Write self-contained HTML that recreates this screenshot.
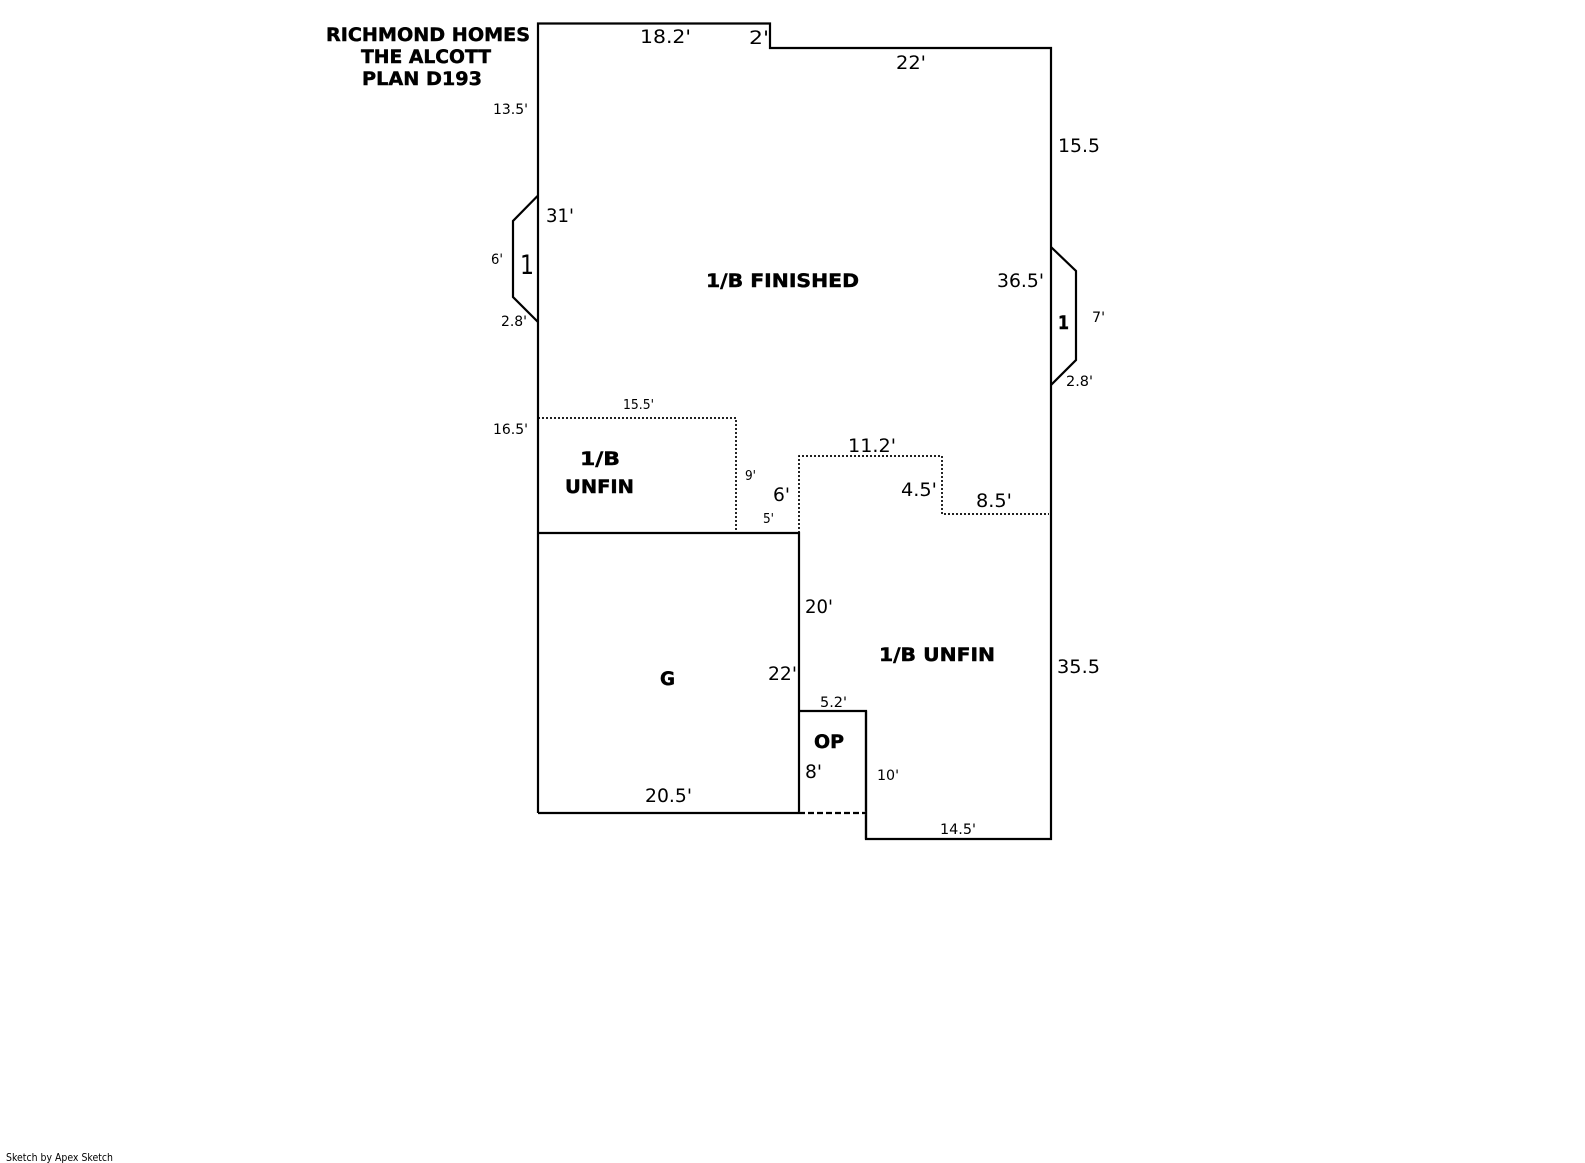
<!DOCTYPE html>
<html>
<head>
<meta charset="utf-8">
<style>
html,body{margin:0;padding:0;background:#fff}
svg{display:block}
text{font-family:"DejaVu Sans","Liberation Sans",sans-serif;fill:#000;font-size:18.5px}
.b{font-weight:bold;stroke:#000;stroke-width:.45px}
.s{font-size:14.5px}
.xs{font-size:13.5px}
</style>
</head>
<body>
<svg width="1585" height="1163" viewBox="0 0 1585 1163" xmlns="http://www.w3.org/2000/svg">
<g fill="none" stroke="#000" stroke-width="2.2">
<path d="M538 813V23.5H770V48H1051V839H866V711H799"/>
<path d="M538 533H799V813M538 813H799M866 711V839"/>
<path d="M537.5 196L513 221V297L538 322"/>
<path d="M1051 247L1076 271V360L1051 385"/>
<path d="M799 813H866" stroke="#fff" stroke-width="2.2"/>
<path d="M799 813H866" stroke-dasharray="6 3"/>
</g>
<g fill="none" stroke="#000" stroke-width="1.7" stroke-dasharray="2 2">
<path d="M538 418H736V533"/>
<path d="M799 533V456H942V514H1049"/>
</g>
<g transform="translate(0,-1)">
<text class="b" x="326" y="42" textLength="204" lengthAdjust="spacingAndGlyphs">RICHMOND HOMES</text>
<text class="b" x="361" y="64" textLength="130" lengthAdjust="spacingAndGlyphs">THE ALCOTT</text>
<text class="b" x="362" y="86" textLength="120" lengthAdjust="spacingAndGlyphs">PLAN D193</text>

<text x="640" y="44" textLength="51" lengthAdjust="spacingAndGlyphs">18.2'</text>
<text x="749" y="45" textLength="20" lengthAdjust="spacingAndGlyphs">2'</text>
<text x="896" y="70" textLength="30" lengthAdjust="spacingAndGlyphs">22'</text>
<text x="1058" y="153" textLength="42" lengthAdjust="spacingAndGlyphs">15.5</text>
<text class="s" x="493" y="115" textLength="35" lengthAdjust="spacingAndGlyphs">13.5'</text>
<text x="546" y="223" textLength="28" lengthAdjust="spacingAndGlyphs">31'</text>
<text class="s" x="491" y="265" textLength="12" lengthAdjust="spacingAndGlyphs">6'</text>
<text x="520" y="275" style="font-size:27px" textLength="14" lengthAdjust="spacingAndGlyphs">1</text>
<text class="s" x="501" y="327" textLength="26" lengthAdjust="spacingAndGlyphs">2.8'</text>
<text class="b" x="706" y="288" textLength="153" lengthAdjust="spacingAndGlyphs">1/B FINISHED</text>
<text x="997" y="288" textLength="47" lengthAdjust="spacingAndGlyphs">36.5'</text>
<text class="b" x="1058" y="330" textLength="11" lengthAdjust="spacingAndGlyphs">1</text>
<text class="s" x="1092" y="323" textLength="13" lengthAdjust="spacingAndGlyphs">7'</text>
<text class="s" x="1066" y="387" textLength="27" lengthAdjust="spacingAndGlyphs">2.8'</text>
<text class="xs" x="623" y="410" textLength="31" lengthAdjust="spacingAndGlyphs">15.5'</text>
<text class="s" x="493" y="435" textLength="35" lengthAdjust="spacingAndGlyphs">16.5'</text>
<text class="b" x="580" y="466" textLength="40" lengthAdjust="spacingAndGlyphs">1/B</text>
<text class="b" x="565" y="494" textLength="69" lengthAdjust="spacingAndGlyphs">UNFIN</text>
<text class="xs" x="745" y="481" textLength="11" lengthAdjust="spacingAndGlyphs">9'</text>
<text x="773" y="502" textLength="17" lengthAdjust="spacingAndGlyphs">6'</text>
<text class="xs" x="763" y="524" textLength="11" lengthAdjust="spacingAndGlyphs">5'</text>
<text x="848" y="453" textLength="48" lengthAdjust="spacingAndGlyphs">11.2'</text>
<text x="901" y="497" textLength="36" lengthAdjust="spacingAndGlyphs">4.5'</text>
<text x="976" y="508" textLength="36" lengthAdjust="spacingAndGlyphs">8.5'</text>
<text x="805" y="614" textLength="28" lengthAdjust="spacingAndGlyphs">20'</text>
<text class="b" x="879" y="662" textLength="116" lengthAdjust="spacingAndGlyphs">1/B UNFIN</text>
<text x="1057" y="674" textLength="43" lengthAdjust="spacingAndGlyphs">35.5</text>
<text class="b" x="660" y="686" textLength="15" lengthAdjust="spacingAndGlyphs">G</text>
<text x="768" y="681" textLength="29" lengthAdjust="spacingAndGlyphs">22'</text>
<text class="s" x="820" y="708" textLength="27" lengthAdjust="spacingAndGlyphs">5.2'</text>
<text class="b" x="814" y="749" textLength="30" lengthAdjust="spacingAndGlyphs">OP</text>
<text x="805" y="779" textLength="17" lengthAdjust="spacingAndGlyphs">8'</text>
<text class="s" x="877" y="781" textLength="22" lengthAdjust="spacingAndGlyphs">10'</text>
<text class="s" x="940" y="835" textLength="36" lengthAdjust="spacingAndGlyphs">14.5'</text>
<text x="645" y="803" textLength="47" lengthAdjust="spacingAndGlyphs">20.5'</text>
<text x="6" y="1162" style="font-size:11px" textLength="107" lengthAdjust="spacingAndGlyphs">Sketch by Apex Sketch</text>
</g>
</svg>
</body>
</html>
